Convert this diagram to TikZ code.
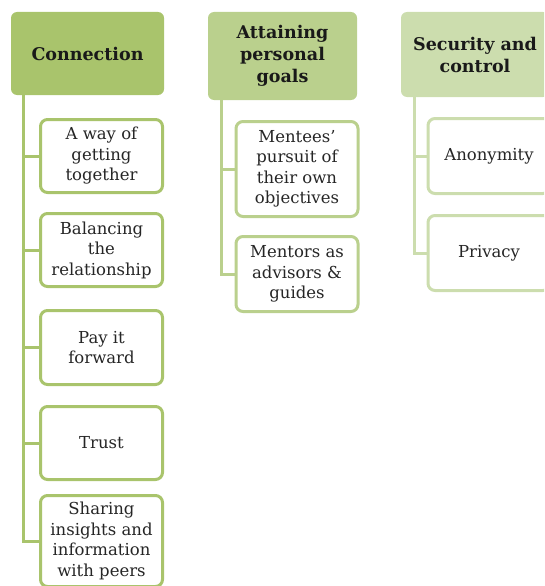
\documentclass[tikz,border=0pt]{standalone}
\usepackage{fontspec}
\setmainfont{DejaVu Serif}
\definecolor{leafA}{HTML}{A9C46C}
\definecolor{leafB}{HTML}{BAD08D}
\definecolor{leafC}{HTML}{CCDDAE}
\begin{document}
\begin{tikzpicture}[x=1pt,y=-1pt,
    head/.style={rounded corners=6pt, inner sep=0pt, align=center,
      font=\bfseries\fontsize{17.5}{22}\selectfont, text=black!90},
    item/.style={draw, line width=3pt, rounded corners=7pt, fill=white,
      inner sep=0pt, minimum width=122pt, align=center,
      font=\fontsize{16.5}{20.5}\selectfont, text=black!85},
    link/.style={line width=3pt}]
    \useasboundingbox (0,0) rectangle (544,586);
    \clip (0,0) rectangle (544,586);
    % first column
    \path (87.5,53.5) node[head, fill=leafA, minimum width=153pt, minimum height=83pt] (c0) {Connection};
    \path (101.5,156) node[item, draw=leafA, minimum height=73pt] (c1) {A way of\\getting\\together};
    \path (101.5,250) node[item, draw=leafA, minimum height=73pt] (c2) {Balancing\\the\\relationship};
    \path (101.5,347.5) node[item, draw=leafA, minimum height=74pt] (c3) {Pay it\\forward};
    \path (101.5,443) node[item, draw=leafA, minimum height=73pt] (c4) {Trust};
    \path (101.5,541) node[item, draw=leafA, minimum height=91pt] (c5) {Sharing\\insights and\\information\\with peers};
    \foreach \i in {1,...,5}
        \draw [link, leafA] ([xshift=13pt]c0.south west) |- (c\i.west);
    % second column
    \path (282.5,56) node[head, fill=leafB, minimum width=149pt, minimum height=88pt] (g0) {Attaining\\personal\\goals};
    \path (297,169) node[item, draw=leafB, minimum height=95pt] (g1) {Mentees'\\pursuit of\\their own\\objectives};
    \path (297,274) node[item, draw=leafB, minimum height=75pt] (g2) {Mentors as\\advisors \&\\guides};
    \foreach \i in {1,2}
        \draw [link, leafB] ([xshift=14pt]g0.south west) |- (g\i.west);
    % third column
    \path (475,54.5) node[head, fill=leafC, minimum width=148pt, minimum height=85pt] (s0) {Security and\\control};
    \path (489,156) node[item, draw=leafC, minimum height=75pt] (s1) {Anonymity};
    \path (489,253) node[item, draw=leafC, minimum height=75pt] (s2) {Privacy};
    \foreach \i in {1,2}
        \draw [link, leafC] ([xshift=14pt]s0.south west) |- (s\i.west);
\end{tikzpicture}
\end{document}
